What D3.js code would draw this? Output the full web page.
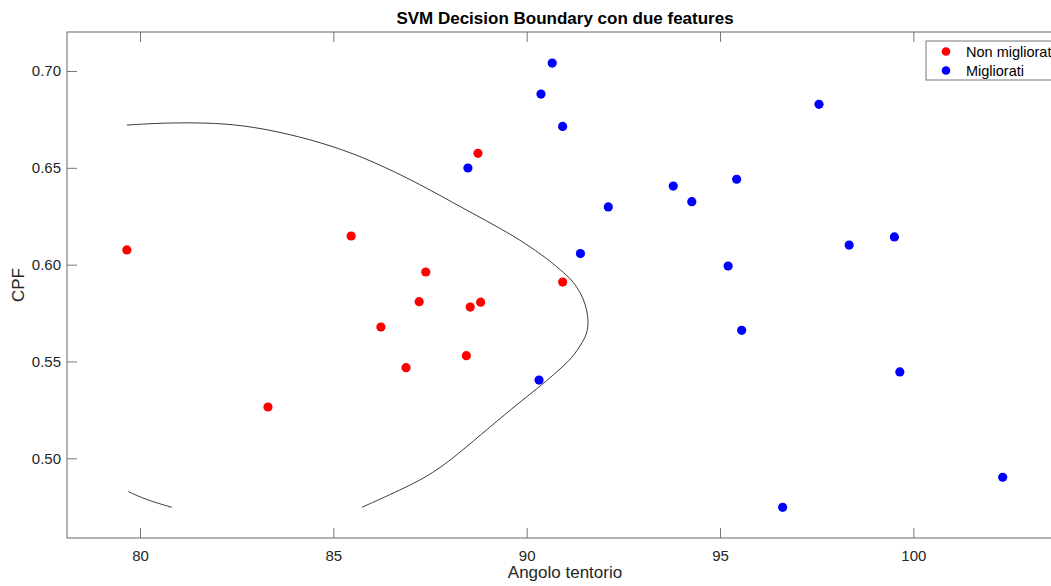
<!DOCTYPE html>
<html>
<head>
<meta charset="utf-8">
<script src="https://cdn.jsdelivr.net/npm/d3@7"></script>
<style>
  body { margin: 0; background: #fff; }
  svg { display: block; font-family: "Liberation Sans", Arial, sans-serif; }
</style>
</head>
<body>
<div id="chart"></div>
<script>
// Non migliorati (red)
const redX = [79.66, 83.31, 85.46, 87.39, 87.22, 86.23, 86.88, 88.44, 88.54, 88.81, 90.93, 88.74];
const redY = [0.6076, 0.5265, 0.6148, 0.5962, 0.5809, 0.5678, 0.5468, 0.5530, 0.5781, 0.5806, 0.5910, 0.6575];

// Migliorati (blue)
const blueX = [88.48, 90.66, 90.37, 90.93, 92.11, 91.39, 90.32, 93.79, 94.27, 95.43, 95.21, 95.56, 97.56, 98.34, 99.51, 99.65, 102.31, 96.62];
const blueY = [0.6499, 0.7041, 0.6881, 0.6714, 0.6298, 0.6057, 0.5404, 0.6406, 0.6325, 0.6441, 0.5993, 0.5661, 0.6828, 0.6101, 0.6143, 0.5446, 0.4902, 0.4747];

// decision boundary (contour level 0), two pieces
const boundaryX = [79.66, 80.70, 81.68, 82.66, 83.80, 84.99, 86.03, 87.24, 88.35, 89.65, 90.47, 90.78, 91.12, 91.30, 91.46, 91.56, 91.60, 91.56, 91.46, 91.30, 91.12, 90.78, 90.42, 89.83, 89.05, 88.20, 87.58, 86.91, 85.74];
const boundaryY = [0.6721, 0.6733, 0.6733, 0.6721, 0.6678, 0.6613, 0.6533, 0.6416, 0.6291, 0.6153, 0.6040, 0.5989, 0.5931, 0.5885, 0.5828, 0.5766, 0.5699, 0.5645, 0.5605, 0.5555, 0.5508, 0.5446, 0.5384, 0.5291, 0.5162, 0.5017, 0.4924, 0.4852, 0.4747];
const boundary2X = [79.70, 80.17, 80.82];
const boundary2Y = [0.4828, 0.4785, 0.4747];

const xTicks = [80, 85, 90, 95, 100];
const yTicks = [0.50, 0.55, 0.60, 0.65, 0.70];
const legendLabels = ['Non migliorati', 'Migliorati'];
const legendColors = ['#ff0000', '#0000ff'];

const W = 1051, H = 586;
const margin = { left: 67, top: 32, right: -12, bottom: 48 };
const iw = W - margin.left - margin.right;
const ih = H - margin.top - margin.bottom;

const svg = d3.select('#chart').append('svg')
  .attr('width', W).attr('height', H);

const x = d3.scaleLinear().domain([78.112, 103.87]).range([0, iw]);
const y = d3.scaleLinear().domain([0.45884, 0.72014]).range([ih, 0]);

const g = svg.append('g').attr('transform', `translate(${margin.left},${margin.top})`);

const axisColor = '#262626';

// axes with inward ticks
const xAxis = g.append('g').attr('transform', `translate(0,${ih})`)
  .call(d3.axisBottom(x).tickValues(xTicks).tickSizeInner(-10).tickSizeOuter(0).tickPadding(12).tickFormat(d3.format('d')));
const xTop = g.append('g')
  .call(d3.axisTop(x).tickValues(xTicks).tickSizeInner(-10).tickSizeOuter(0).tickFormat(''));
const yAxis = g.append('g')
  .call(d3.axisLeft(y).tickValues(yTicks).tickSizeInner(-10).tickSizeOuter(0).tickPadding(6).tickFormat(d3.format('.2f')));
const yRight = g.append('g').attr('transform', `translate(${iw},0)`)
  .call(d3.axisRight(y).tickValues(yTicks).tickSizeInner(-10).tickSizeOuter(0).tickFormat(''));

[xAxis, xTop, yAxis, yRight].forEach(a => {
  a.select('.domain').remove();
  a.selectAll('.tick line').attr('stroke', '#555').attr('stroke-width', 0.8);
  a.selectAll('.tick text').attr('fill', axisColor).style('font-size', '15px');
});

// frame
g.append('rect')
  .attr('width', iw).attr('height', ih)
  .attr('fill', 'none').attr('stroke', '#666').attr('stroke-width', 1);

// boundary
const line = d3.line().x(d => x(d[0])).y(d => y(d[1])).curve(d3.curveBasis);
[[boundaryX, boundaryY], [boundary2X, boundary2Y]].forEach(([bx, by]) => {
  g.append('path')
    .datum(bx.map((v, i) => [v, by[i]]))
    .attr('d', line)
    .attr('fill', 'none')
    .attr('stroke', '#3a3a3a')
    .attr('stroke-width', 1);
});

// points
g.selectAll('.red').data(redX.map((v, i) => [v, redY[i]])).enter()
  .append('circle').attr('class', 'red')
  .attr('cx', d => x(d[0])).attr('cy', d => y(d[1])).attr('r', 4.6)
  .attr('fill', legendColors[0]);
g.selectAll('.blue').data(blueX.map((v, i) => [v, blueY[i]])).enter()
  .append('circle').attr('class', 'blue')
  .attr('cx', d => x(d[0])).attr('cy', d => y(d[1])).attr('r', 4.6)
  .attr('fill', legendColors[1]);

// title and labels
svg.append('text')
  .attr('x', margin.left + iw / 2).attr('y', 24)
  .attr('text-anchor', 'middle')
  .style('font-size', '17px').style('font-weight', 'bold')
  .attr('fill', '#000')
  .text('SVM Decision Boundary con due features');

svg.append('text')
  .attr('x', margin.left + iw / 2).attr('y', 578)
  .attr('text-anchor', 'middle')
  .style('font-size', '17px').attr('fill', axisColor)
  .text('Angolo tentorio');

svg.append('text')
  .attr('transform', `translate(24,${margin.top + ih / 2}) rotate(-90)`)
  .attr('text-anchor', 'middle')
  .style('font-size', '17px').attr('fill', axisColor)
  .text('CPF');

// legend (runs past the right edge, as in the cropped original)
const lg = svg.append('g').attr('transform', 'translate(926,41)');
lg.append('rect')
  .attr('width', 140).attr('height', 39)
  .attr('fill', '#fff').attr('stroke', '#777').attr('stroke-width', 1);
legendLabels.forEach((lab, i) => {
  lg.append('circle').attr('cx', 20).attr('cy', 10.5 + i * 19).attr('r', 4.3).attr('fill', legendColors[i]);
  lg.append('text').attr('x', 40).attr('y', 15.5 + i * 19)
    .style('font-size', '14.5px').attr('fill', '#000').text(lab);
});
</script>
</body>
</html>
